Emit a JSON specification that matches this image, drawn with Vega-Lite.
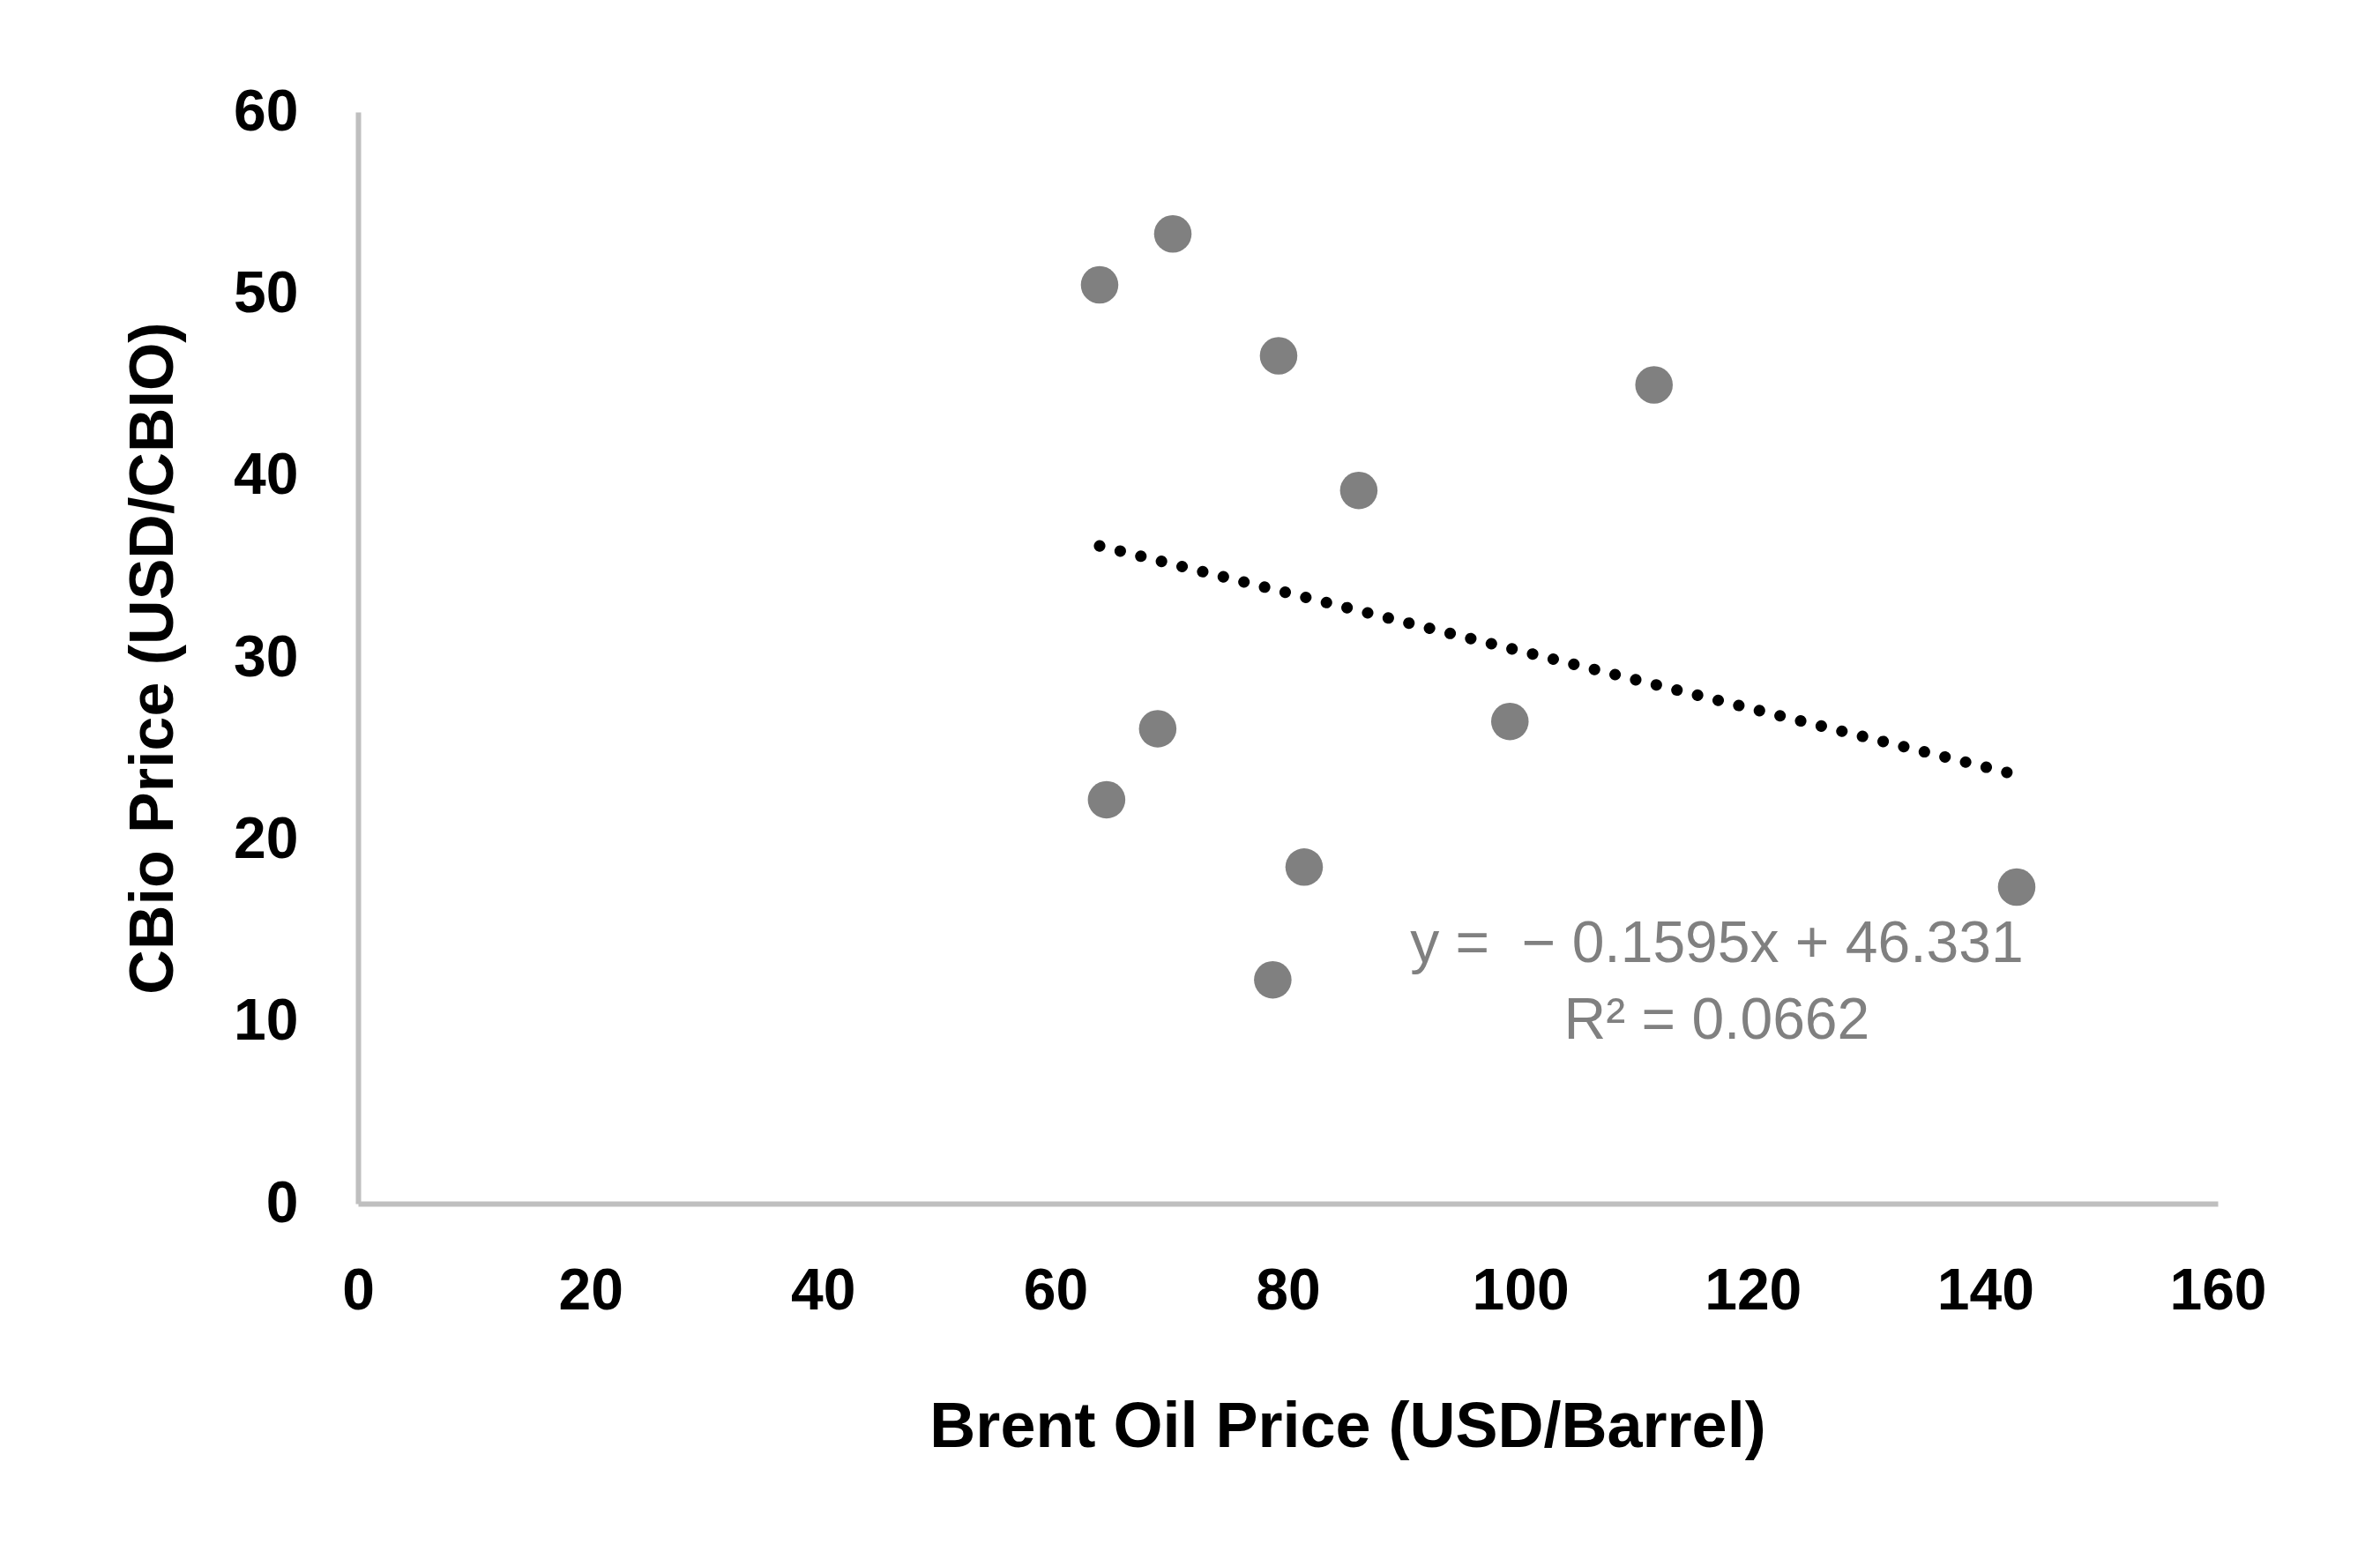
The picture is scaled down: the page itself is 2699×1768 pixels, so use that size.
{
  "$schema": "https://vega.github.io/schema/vega-lite/v6.json",
  "width": 2109,
  "height": 1238,
  "autosize": "none",
  "padding": {"left": 406, "top": 127, "right": 184, "bottom": 403},
  "background": "white",
  "config": {"view": {"stroke": null}},
  "datasets": {
    "points": [
      {"brent": 63.8, "cbio": 50.5},
      {"brent": 70.1, "cbio": 53.3},
      {"brent": 79.2, "cbio": 46.6},
      {"brent": 111.5, "cbio": 45.0},
      {"brent": 86.1, "cbio": 39.2},
      {"brent": 68.8, "cbio": 26.1},
      {"brent": 99.1, "cbio": 26.5},
      {"brent": 64.4, "cbio": 22.2},
      {"brent": 81.4, "cbio": 18.5},
      {"brent": 142.7, "cbio": 17.4},
      {"brent": 78.7, "cbio": 12.3}
    ],
    "trend": [
      {"brent": 63.8, "cbio": 36.15},
      {"brent": 142.0, "cbio": 23.68}
    ]
  },
  "layer": [
    {
      "data": {"name": "points"},
      "mark": {"type": "circle", "size": 1810, "color": "#808080", "opacity": 1},
      "encoding": {
        "x": {
          "field": "brent", "type": "quantitative",
          "scale": {"domain": [0, 160], "nice": false, "zero": true},
          "axis": {
            "title": "Brent Oil Price (USD/Barrel)",
            "values": [0, 20, 40, 60, 80, 100, 120, 140, 160],
            "grid": false, "ticks": false,
            "domainColor": "#bfbfbf", "domainWidth": 6,
            "labelFont": "Liberation Sans", "labelFontSize": 66, "labelFontWeight": "bold", "labelColor": "black",
            "labelPadding": 67, "labelFlush": false,
            "titleFont": "Liberation Sans", "titleFontSize": 72, "titleFontWeight": "bold", "titleColor": "black",
            "titlePadding": 86, "titleX": 1122
          }
        },
        "y": {
          "field": "cbio", "type": "quantitative",
          "scale": {"domain": [0, 60], "nice": false},
          "axis": {
            "title": "CBio Price (USD/CBIO)",
            "values": [0, 10, 20, 30, 40, 50, 60],
            "grid": false, "ticks": false,
            "domainColor": "#bfbfbf", "domainWidth": 6,
            "labelFont": "Liberation Sans", "labelFontSize": 66, "labelFontWeight": "bold", "labelColor": "black",
            "labelPadding": 68, "labelFlush": false,
            "titleFont": "Liberation Sans", "titleFontSize": 70, "titleFontWeight": "bold", "titleColor": "black",
            "titlePadding": 54
          }
        }
      }
    },
    {
      "data": {"name": "trend"},
      "mark": {"type": "line", "color": "black", "strokeWidth": 13, "strokeCap": "round", "strokeDash": [0.1, 24]},
      "encoding": {
        "x": {"field": "brent", "type": "quantitative"},
        "y": {"field": "cbio", "type": "quantitative"}
      }
    },
    {
      "data": {"values": [{"label": "y =\u00a0 − 0.1595x + 46.331"}]},
      "mark": {"type": "text", "font": "Liberation Sans", "fontSize": 66, "color": "#808080", "align": "center", "baseline": "middle"},
      "encoding": {
        "x": {"datum": 116.9},
        "y": {"datum": 14.25},
        "text": {"field": "label"}
      }
    },
    {
      "data": {"values": [{"label": "R² = 0.0662"}]},
      "mark": {"type": "text", "font": "Liberation Sans", "fontSize": 66, "color": "#808080", "align": "center", "baseline": "middle"},
      "encoding": {
        "x": {"datum": 116.9},
        "y": {"datum": 10.03},
        "text": {"field": "label"}
      }
    }
  ]
}
